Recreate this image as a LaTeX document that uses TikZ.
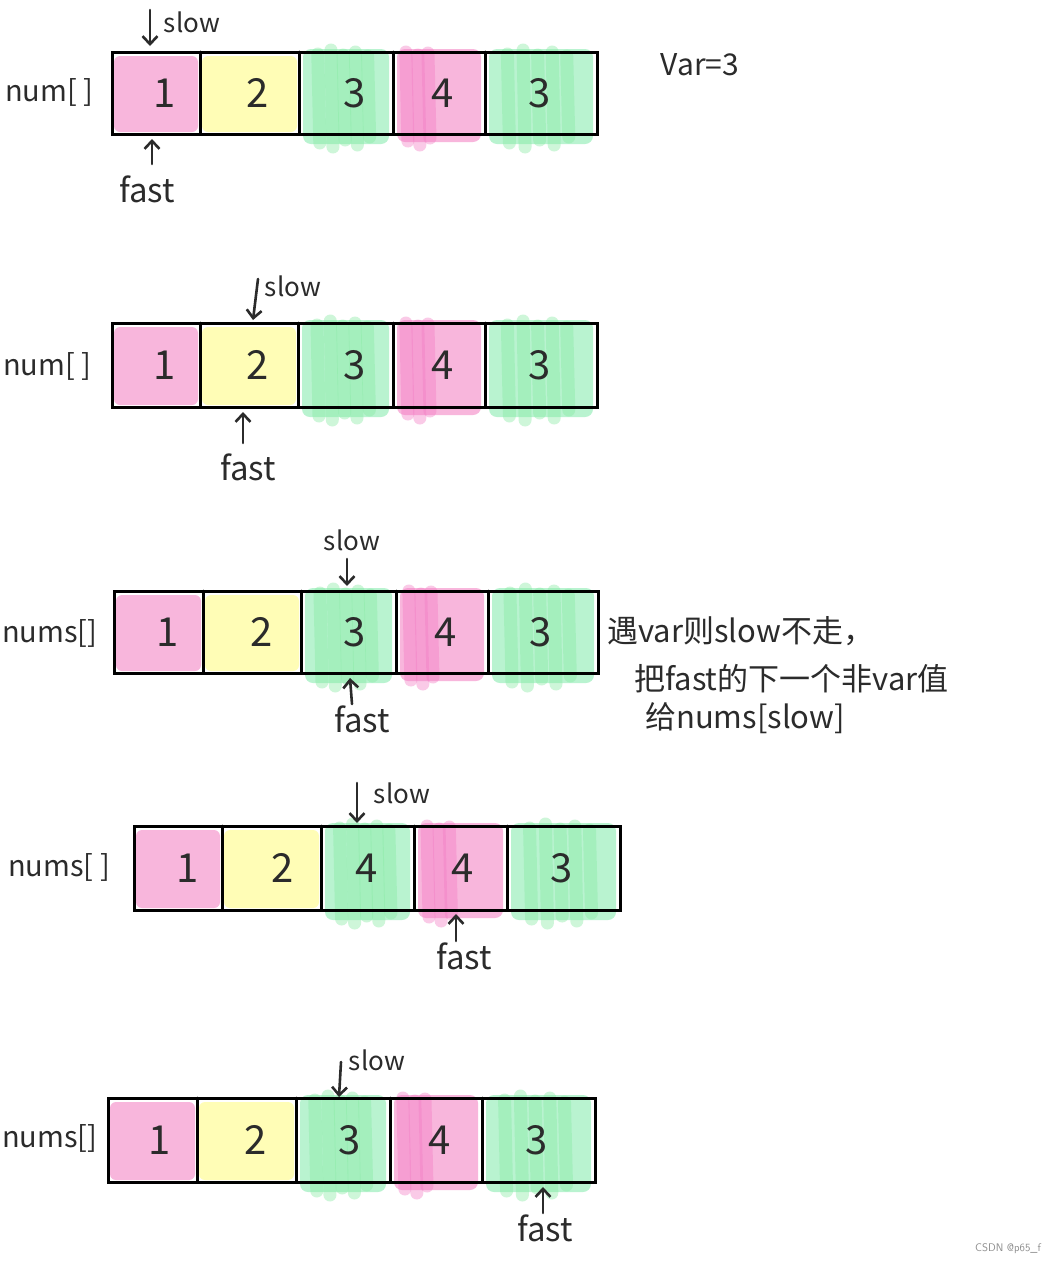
\documentclass[tikz,border=0pt]{standalone}
\usepackage{fontspec}
\setmainfont{Noto Sans CJK SC}
\usetikzlibrary{arrows.meta}
\definecolor{ink}{HTML}{2B2B2B}
\definecolor{pinkc}{HTML}{F8B6DC}
\definecolor{yellowc}{HTML}{FFFDB6}
\definecolor{greenc}{HTML}{B9F3D0}
\definecolor{greend}{HTML}{86EAA2}
\definecolor{magd}{HTML}{F37CC4}
\tikzset{
  ptr/.style={draw=ink, line width=2.6pt, line cap=round,
    -{Straight Barb[length=8pt,width=15pt,line width=2.6pt]}},
  boxline/.style={draw=black, line width=3pt, line cap=round},
  lbl/.style={text=ink, font=\fontsize{30}{32}\selectfont, inner sep=0pt},
  leftlbl/.style={text=ink, font=\fontsize{29}{32}\selectfont, inner sep=0pt, anchor=west},
  slowlbl/.style={text=ink, font=\fontsize{26}{28}\selectfont, inner sep=0pt},
  fastlbl/.style={text=ink, font=\fontsize{33}{35}\selectfont, inner sep=0pt},
  digit/.style={text=ink, font=\fontsize{40}{44}\selectfont, inner sep=0pt},
  note/.style={text=ink, font=\fontsize{31}{34}\selectfont, inner sep=0pt, anchor=west},
  streak/.style={line width=13pt, line cap=round, opacity=0.4},
}
% name, xl, xr, yt, yb, colour, digit, digit x
\newcommand\mkcell[8]{%
  \fill[#6, rounded corners=6pt] (#2+2,#4+4) rectangle (#3-2,#5-2);
  \node[digit] (#1) at (#8,{(#4+#5)/2}) {#7};
}
\newcommand\gstreaks[4]{%
  \fill[greenc, rounded corners=8pt] (#1+4,#3-3) rectangle (#2-4,#4+10);
  \foreach \f/\t/\b in {0.2/2/9, 0.34/-2/13, 0.47/3/6, 0.6/0/11, 0.73/4/3}{
    \draw[streak, greend] ({#1+\f*(#2-#1)},#3+\t) -- ({#1+\f*(#2-#1)+2},#4+\b);
  }
}
\newcommand\mstreaks[4]{%
  \fill[pinkc, rounded corners=8pt] (#1+4,#3-3) rectangle (#2-4,#4+8);
  \foreach \f/\t/\b in {0.14/0/7, 0.27/3/11, 0.38/1/4}{
    \draw[streak, magd] ({#1+\f*(#2-#1)},#3+\t) -- ({#1+\f*(#2-#1)+2},#4+\b);
  }
}
% xl, d1, d2, d3, d4, xr, yt, yb
\newcommand\outline[8]{%
  \draw[boxline] (#1,#7) rectangle (#6,#8);
  \foreach \d in {#2,#3,#4,#5}{\draw[boxline] (\d,#7) -- (\d,#8);}
}
\begin{document}
\begin{tikzpicture}[x=1pt,y=-1pt]
\useasboundingbox[fill=white] (0,0) rectangle (1058,1264);

% ---------- row 1 ----------
\mkcell{a1}{112}{200}{52}{134}{pinkc}{1}{165}
\mkcell{a2}{200}{299}{52}{134}{yellowc}{2}{258}
\gstreaks{299}{393}{52}{134}\mkcell{a3}{299}{393}{52}{134}{greenc,opacity=0}{3}{355}
\mstreaks{393}{485}{52}{134}\mkcell{a4}{393}{485}{52}{134}{pinkc,opacity=0}{4}{443}
\gstreaks{485}{597}{52}{134}\mkcell{a5}{485}{597}{52}{134}{greenc,opacity=0}{3}{540}
\outline{112}{200}{299}{393}{485}{597}{52}{134}
\node[leftlbl] (n1) at (5,92) {num[ ]};
\node[slowlbl] (sl1) at (192,22) {slow};
\coordinate (s1a) at (150,10); \coordinate (s1b) at (150,46);
\draw[ptr] (s1a) -- (s1b);
\node[fastlbl] (fl1) at (147,189) {fast};
\coordinate (f1a) at (152,164); \coordinate (f1b) at (152,139);
\draw[ptr] (f1a) -- (f1b);
\node[lbl] (var) at (700,65) {Var=3};

% ---------- row 2 ----------
\mkcell{b1}{112}{200}{323}{407}{pinkc}{1}{165}
\mkcell{b2}{200}{298}{323}{407}{yellowc}{2}{258}
\gstreaks{298}{393}{323}{407}\mkcell{b3}{298}{393}{323}{407}{greenc,opacity=0}{3}{355}
\mstreaks{393}{485}{323}{407}\mkcell{b4}{393}{485}{323}{407}{pinkc,opacity=0}{4}{443}
\gstreaks{485}{597}{323}{407}\mkcell{b5}{485}{597}{323}{407}{greenc,opacity=0}{3}{540}
\outline{112}{200}{298}{393}{485}{597}{323}{407}
\node[leftlbl] (n2) at (3,366) {num[ ]};
\node[slowlbl] (sl2) at (293,286) {slow};
\coordinate (s2a) at (258,279); \coordinate (s2b) at (253,320);
\draw[ptr] (s2a) -- (s2b);
\node[fastlbl] (fl2) at (248,467) {fast};
\coordinate (f2a) at (243,443); \coordinate (f2b) at (243,412);
\draw[ptr] (f2a) -- (f2b);

% ---------- row 3 ----------
\mkcell{c1}{114}{203}{591}{673}{pinkc}{1}{168}
\mkcell{c2}{203}{301}{591}{673}{yellowc}{2}{262}
\gstreaks{301}{396}{591}{673}\mkcell{c3}{301}{396}{591}{673}{greenc,opacity=0}{3}{355}
\mstreaks{396}{488}{591}{673}\mkcell{c4}{396}{488}{591}{673}{pinkc,opacity=0}{4}{446}
\gstreaks{488}{598}{591}{673}\mkcell{c5}{488}{598}{591}{673}{greenc,opacity=0}{3}{541}
\outline{114}{203}{301}{396}{488}{598}{591}{673}
\node[leftlbl] (n3) at (2,633) {nums[]};
\node[slowlbl] (sl3) at (352,540) {slow};
\coordinate (s3a) at (347,559); \coordinate (s3b) at (347,586);
\draw[ptr] (s3a) -- (s3b);
\node[fastlbl] (fl3) at (362,719) {fast};
\coordinate (f3a) at (352,704); \coordinate (f3b) at (350,678);
\draw[ptr] (f3a) -- (f3b);
\node[note] (t1) at (607,631) {遇var则slow不走，};
\node[note] (t2) at (634,679) {把fast的下一个非var值};
\node[note] (t3) at (645,718) {给nums[slow]};

% ---------- row 4 ----------
\mkcell{d1}{134}{222}{826}{910}{pinkc}{1}{188}
\mkcell{d2}{222}{321}{826}{910}{yellowc}{2}{283}
\gstreaks{321}{414}{826}{910}\mkcell{d3}{321}{414}{826}{910}{greenc,opacity=0}{4}{367}
\mstreaks{414}{507}{826}{910}\mkcell{d4}{414}{507}{826}{910}{pinkc,opacity=0}{4}{463}
\gstreaks{507}{620}{826}{910}\mkcell{d5}{507}{620}{826}{910}{greenc,opacity=0}{3}{562}
\outline{134}{222}{321}{414}{507}{620}{826}{910}
\node[leftlbl] (n4) at (8,867) {nums[ ]};
\node[slowlbl] (sl4) at (402,793) {slow};
\coordinate (s4a) at (357,783); \coordinate (s4b) at (357,823);
\draw[ptr] (s4a) -- (s4b);
\node[fastlbl] (fl4) at (464,956) {fast};
\coordinate (f4a) at (456,941); \coordinate (f4b) at (456,914);
\draw[ptr] (f4a) -- (f4b);

% ---------- row 5 ----------
\mkcell{e1}{108}{197}{1098}{1182}{pinkc}{1}{160}
\mkcell{e2}{197}{296}{1098}{1182}{yellowc}{2}{256}
\gstreaks{296}{390}{1098}{1182}\mkcell{e3}{296}{390}{1098}{1182}{greenc,opacity=0}{3}{350}
\mstreaks{390}{482}{1098}{1182}\mkcell{e4}{390}{482}{1098}{1182}{pinkc,opacity=0}{4}{440}
\gstreaks{482}{595}{1098}{1182}\mkcell{e5}{482}{595}{1098}{1182}{greenc,opacity=0}{3}{537}
\outline{108}{197}{296}{390}{482}{595}{1098}{1182}
\node[leftlbl] (n5) at (2,1138) {nums[]};
\node[slowlbl] (sl5) at (377,1060) {slow};
\coordinate (s5a) at (341,1062); \coordinate (s5b) at (339,1097);
\draw[ptr] (s5a) -- (s5b);
\node[fastlbl] (fl5) at (545,1228) {fast};
\coordinate (f5a) at (543,1213); \coordinate (f5b) at (543,1187);
\draw[ptr] (f5a) -- (f5b);

\node[text=black!45, font=\fontsize{11}{12}\selectfont\sffamily, inner sep=0pt] (wm) at (1008,1249) {CSDN @p65\_f};
\end{tikzpicture}
\end{document}
